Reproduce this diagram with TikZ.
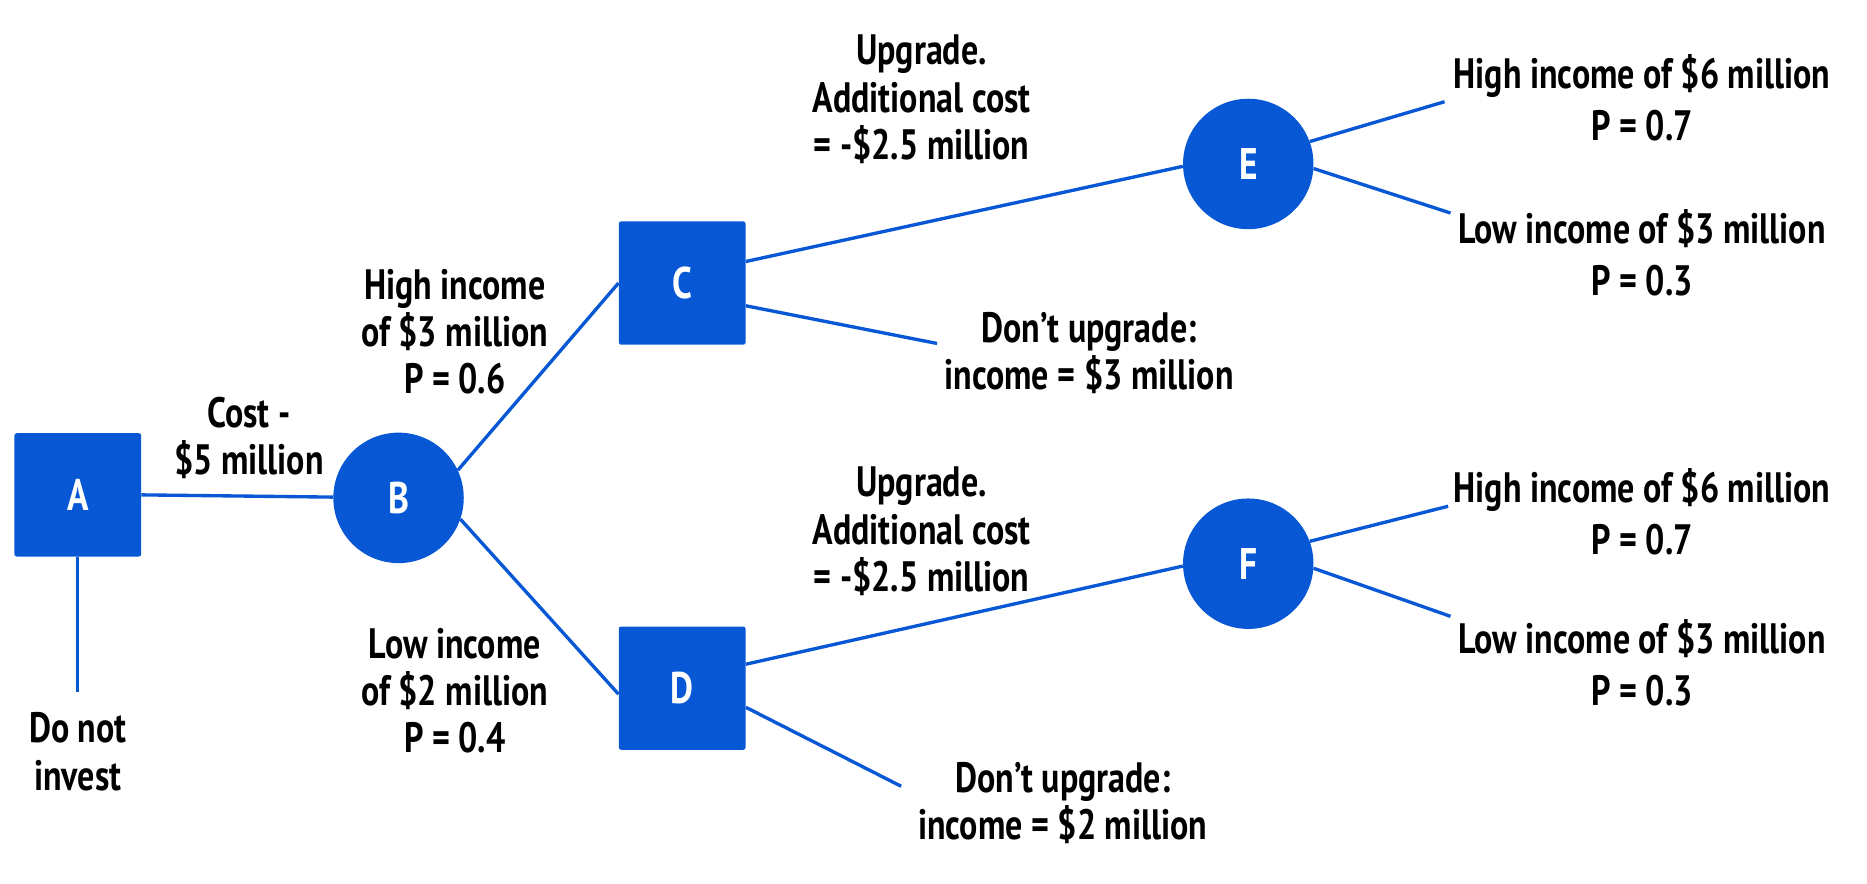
\documentclass[tikz,border=0pt]{standalone}
\usepackage{fontspec}
\setmainfont[FakeStretch=0.8]{PT Sans}
\usetikzlibrary{calc}
\definecolor{myblue}{HTML}{0858D5}
\begin{document}
\begin{tikzpicture}[x=1pt,y=-1pt,
  conn/.style={draw=myblue, line width=2.8pt},
  dbox/.style={rectangle, fill=myblue, rounded corners=2pt, minimum width=106pt, minimum height=103pt, text=white, font=\bfseries\fontsize{37}{40}\selectfont, inner sep=0pt},
  chance/.style={circle, fill=myblue, minimum size=109pt, text=white, font=\bfseries\fontsize{37}{40}\selectfont, inner sep=0pt},
  lab/.style={align=center, font=\bfseries\fontsize{35.5}{39.5}\selectfont, inner sep=0pt}]
\useasboundingbox (0,0) rectangle (1560,738.6);
% nodes
\node[dbox] (A) at (65,413.5) {A};
\node[chance] (B) at (333,416) {B};
\node[dbox] (C) at (570,236.5) {C};
\node[dbox] (D) at (570,575) {D};
\node[chance] (E) at (1043,137) {E};
\node[chance] (F) at (1043,471) {F};
% free ends
\coordinate (Aend) at (65,578);
\coordinate (Cno) at (783,287);
\coordinate (Dno) at (753,657);
\coordinate (Ehi) at (1207,85);
\coordinate (Elo) at (1212,178);
\coordinate (Fhi) at (1210,423);
\coordinate (Flo) at (1212,515);
% connectors
\draw[conn] (A.south) -- (Aend);
\draw[conn] (A.east) -- (B);
\draw[conn] (B.25) -- (C.west);
\draw[conn] (B.-19) -- ($(D.west)+(0,5)$);
\draw[conn] ($(C.east)+(0,-18)$) -- ($(E.west)+(0,2)$);
\draw[conn] ($(C.east)+(0,19)$) -- (Cno);
\draw[conn] ($(D.east)+(0,-20)$) -- ($(F.west)+(0,2)$);
\draw[conn] ($(D.east)+(0,16)$) -- (Dno);
\draw[conn] (E.20) -- (Ehi);
\draw[conn] (E.-4) -- (Elo);
\draw[conn] (F.20) -- (Fhi);
\draw[conn] (F.-4) -- (Flo);
% labels
\node[lab] (lcost) at (208,366) {Cost -\\\$5 million};
\node[lab] (lno) at (65,628) {Do not\\invest};
\node[lab] (lhc) at (380,277) {High income\\of \$3 million\\P = 0.6};
\node[lab] (lld) at (380,577) {Low income\\of \$2 million\\P = 0.4};
\node[lab] (luc) at (770,83) {Upgrade.\\Additional cost\\= -\$2.5 million};
\node[lab] (lnc) at (910,295) {Don’t upgrade:\\income = \$3 million};
\node[lab] (lud) at (770,444) {Upgrade.\\Additional cost\\= -\$2.5 million};
\node[lab] (lnd) at (888,671) {Don’t upgrade:\\income = \$2 million};
\node[lab] (leh) at (1372,82) {High income of \$6 million\\[4pt]P = 0.7};
\node[lab] (lel) at (1372,211) {Low income of \$3 million\\[4pt]P = 0.3};
\node[lab] (lfh) at (1372,428) {High income of \$6 million\\[4pt]P = 0.7};
\node[lab] (lfl) at (1372,554) {Low income of \$3 million\\[4pt]P = 0.3};
\end{tikzpicture}
\end{document}
